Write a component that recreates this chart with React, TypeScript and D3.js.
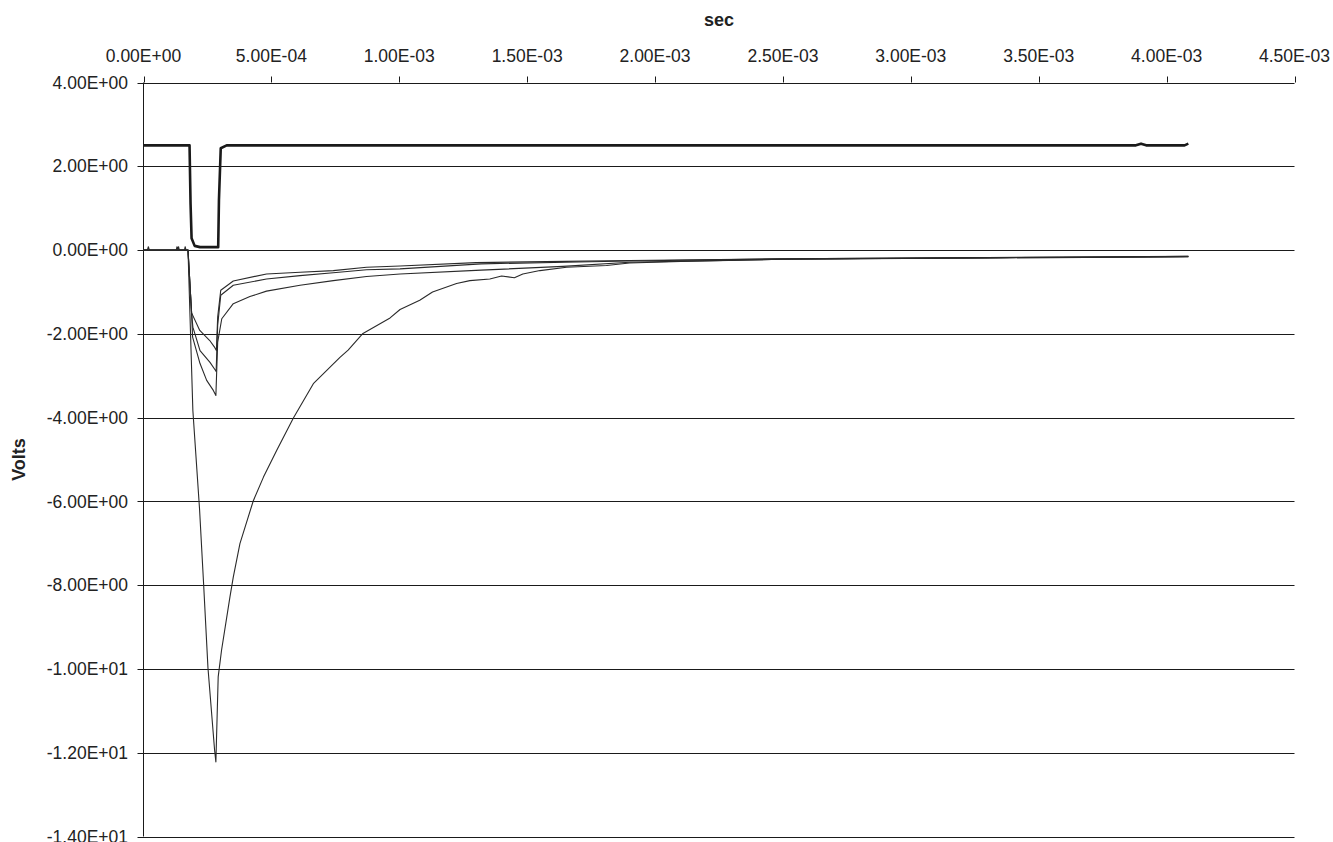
import React, { useEffect, useRef } from 'react';
import * as d3 from 'd3';

type Pt = [number, number];

// x ticks (sec) and y ticks (Volts)
const xTicks = [0, 5e-4, 1e-3, 1.5e-3, 2e-3, 2.5e-3, 3e-3, 3.5e-3, 4e-3, 4.5e-3];
const yTicks = [4, 2, 0, -2, -4, -6, -8, -10, -12, -14];

// gate pulse (thick trace)
const pulse: Pt[] = [
  [0, 2.5], [1.8e-4, 2.5], [1.84e-4, 1.1], [1.88e-4, 0.28], [2.0e-4, 0.1], [2.21e-4, 0.07],
  [2.92e-4, 0.07], [2.95e-4, 1.2], [3.02e-4, 2.43], [3.25e-4, 2.5], [3.88e-3, 2.5],
  [3.9e-3, 2.54], [3.92e-3, 2.5], [4.07e-3, 2.5], [4.085e-3, 2.54],
];

// deepest response
const traceA: Pt[] = [
  [0, 0], [1.74e-4, 0], [1.93e-4, -3.83], [2.19e-4, -6.17], [2.35e-4, -7.97], [2.52e-4, -9.97],
  [2.78e-4, -11.94], [2.83e-4, -12.22], [2.92e-4, -10.19], [3.05e-4, -9.56], [3.38e-4, -8.28],
  [3.51e-4, -7.81], [3.77e-4, -7.01], [4.29e-4, -5.99], [4.69e-4, -5.42], [5.21e-4, -4.78],
  [5.86e-4, -4.01], [6.64e-4, -3.19], [7.68e-4, -2.56], [8.0e-4, -2.39], [8.58e-4, -1.99],
  [9.64e-4, -1.62], [1.003e-3, -1.42], [1.08e-3, -1.2], [1.13e-3, -1.0], [1.224e-3, -0.8],
  [1.276e-3, -0.73], [1.354e-3, -0.69], [1.4e-3, -0.62], [1.45e-3, -0.66], [1.483e-3, -0.57],
  [1.55e-3, -0.49], [1.654e-3, -0.41], [1.81e-3, -0.37], [1.9e-3, -0.31], [2.1e-3, -0.27],
  [2.49e-3, -0.22], [2.9e-3, -0.2], [3.35e-3, -0.18], [3.7e-3, -0.17], [4.085e-3, -0.15],
];

const traceB: Pt[] = [
  [0, 0], [1.74e-4, 0], [1.88e-4, -1.5], [1.92e-4, -2.08], [2.21e-4, -2.71], [2.47e-4, -3.11],
  [2.73e-4, -3.35], [2.83e-4, -3.47], [2.9e-4, -2.2], [3.06e-4, -1.64], [3.51e-4, -1.28],
  [4.16e-4, -1.11], [4.81e-4, -0.98], [6.12e-4, -0.84], [7.42e-4, -0.73], [8.72e-4, -0.63],
  [1.003e-3, -0.57], [1.32e-3, -0.48], [1.64e-3, -0.39], [1.9e-3, -0.29], [2.5e-3, -0.22],
  [3.3e-3, -0.19], [4.085e-3, -0.16],
];

const traceC: Pt[] = [
  [0, 0], [1.74e-4, 0], [1.88e-4, -1.5], [1.93e-4, -1.84], [2.21e-4, -2.4], [2.6e-4, -2.68],
  [2.81e-4, -2.87], [2.84e-4, -2.9], [2.9e-4, -1.8], [3.02e-4, -1.08], [3.51e-4, -0.84],
  [4.81e-4, -0.69], [6.12e-4, -0.61], [7.42e-4, -0.54], [8.72e-4, -0.47], [1.003e-3, -0.45],
  [1.32e-3, -0.33], [1.65e-3, -0.29], [1.9e-3, -0.26], [2.5e-3, -0.21], [3.3e-3, -0.18],
  [4.085e-3, -0.16],
];

const traceD: Pt[] = [
  [0, 0], [1.5e-5, 0], [1.9e-5, 0.08], [2.3e-5, 0], [1.28e-4, 0], [1.31e-4, 0.08], [1.34e-4, 0],
  [1.37e-4, 0.08], [1.4e-4, 0], [1.6e-4, 0], [1.63e-4, 0.08], [1.66e-4, 0], [1.74e-4, 0],
  [1.88e-4, -1.5], [2.2e-4, -1.92], [2.59e-4, -2.16], [2.79e-4, -2.33], [2.85e-4, -2.4],
  [2.9e-4, -1.6], [3.02e-4, -0.96], [3.51e-4, -0.74], [4.81e-4, -0.57], [6.12e-4, -0.53],
  [7.42e-4, -0.49], [8.72e-4, -0.41], [1.003e-3, -0.38], [1.3e-3, -0.3], [1.65e-3, -0.27],
  [1.9e-3, -0.25], [2.5e-3, -0.21], [3.3e-3, -0.18], [4.085e-3, -0.15],
];

const thinTraces = [traceA, traceB, traceC, traceD];

const W = 1333;
const H = 842;
const left = 143.5;
const right = 1294.5;
const top = 82.5;
const bottom = 836.5;

const fmt = (v: number) => {
  const s = v.toExponential(2).toUpperCase();
  return s.replace(/E([+-])(\d)$/, 'E$10$2');
};

const App: React.FC = () => {
  const svgRef = useRef<SVGSVGElement>(null);

  useEffect(() => {
    if (!svgRef.current) return;
    const svg = d3.select(svgRef.current);
    svg.selectAll('*').remove();

    const x = d3.scaleLinear().domain([0, 4.5e-3]).range([left, right]);
    const y = d3.scaleLinear().domain([-14, 4]).range([bottom, top]);
    const font = "'Liberation Sans', Arial, sans-serif";

    // horizontal gridlines
    svg.append('g')
      .selectAll('line')
      .data(yTicks)
      .enter().append('line')
      .attr('x1', left - 6).attr('x2', right)
      .attr('y1', d => Math.round(y(d)) + 0.5).attr('y2', d => Math.round(y(d)) + 0.5)
      .attr('stroke', '#1a1a1a')
      .attr('stroke-width', 1);

    // left axis line
    svg.append('line')
      .attr('x1', left).attr('x2', left)
      .attr('y1', top).attr('y2', bottom)
      .attr('stroke', '#1a1a1a');

    // top axis ticks
    svg.append('g')
      .selectAll('line')
      .data(xTicks)
      .enter().append('line')
      .attr('x1', d => Math.round(x(d)) + 0.5).attr('x2', d => Math.round(x(d)) + 0.5)
      .attr('y1', top - 6).attr('y2', top)
      .attr('stroke', '#1a1a1a');

    svg.append('g')
      .selectAll('text')
      .data(xTicks)
      .enter().append('text')
      .attr('x', d => x(d))
      .attr('y', 62)
      .attr('text-anchor', 'middle')
      .attr('font-family', font)
      .attr('font-size', 17.5)
      .attr('fill', '#222')
      .text(d => fmt(d));

    svg.append('g')
      .selectAll('text')
      .data(yTicks)
      .enter().append('text')
      .attr('x', 128)
      .attr('y', d => y(d))
      .attr('dy', '0.35em')
      .attr('text-anchor', 'end')
      .attr('font-family', font)
      .attr('font-size', 17.5)
      .attr('fill', '#222')
      .text(d => fmt(d));

    // axis titles
    svg.append('text')
      .attr('x', (left + right) / 2).attr('y', 26)
      .attr('text-anchor', 'middle')
      .attr('font-family', font).attr('font-size', 18).attr('font-weight', 'bold')
      .attr('fill', '#222')
      .text('sec');

    svg.append('text')
      .attr('transform', `translate(25,${(top + bottom) / 2}) rotate(-90)`)
      .attr('text-anchor', 'middle')
      .attr('font-family', font).attr('font-size', 18).attr('font-weight', 'bold')
      .attr('fill', '#222')
      .text('Volts');

    const line = d3.line<Pt>().x(d => x(d[0])).y(d => y(d[1]));

    svg.append('g')
      .selectAll('path')
      .data(thinTraces)
      .enter().append('path')
      .attr('d', d => line(d))
      .attr('fill', 'none')
      .attr('stroke', '#2a2a2a')
      .attr('stroke-width', 1.1)
      .attr('stroke-linejoin', 'round');

    svg.append('path')
      .attr('d', line(pulse))
      .attr('fill', 'none')
      .attr('stroke', '#1a1a1a')
      .attr('stroke-width', 2.6)
      .attr('stroke-linejoin', 'round');
  }, []);

  return (
    <svg
      ref={svgRef}
      width={W}
      height={H}
      style={{ position: 'absolute', left: 0, top: 0, background: '#fff' }}
    />
  );
};

export default App;
